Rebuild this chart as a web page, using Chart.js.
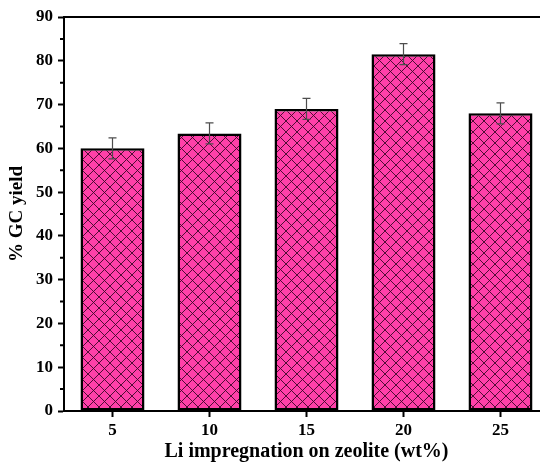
<!DOCTYPE html>
<html>
<head>
<meta charset="utf-8">
<script src="https://cdn.jsdelivr.net/npm/chart.js@4.4.1/dist/chart.umd.min.js"></script>
<style>
  html, body { margin: 0; padding: 0; background: #fff; overflow: hidden; }
  #wrap { width: 552px; height: 462px; }
</style>
</head>
<body>
<div id="wrap"><canvas id="yieldChart" width="552" height="462"></canvas></div>
<script>
// Li loading (wt%) vs GC yield
const loadings = ['5', '10', '15', '20', '25'];
const gcYield = [60.0, 63.4, 69.0, 81.5, 68.0];
const yieldErr = [2.4, 2.4, 2.4, 2.4, 2.4];
const yTicks = [0, 10, 20, 30, 40, 50, 60, 70, 80, 90];
const yMinorTicks = [5, 15, 25, 35, 45, 55, 65, 75, 85];

const serif = '"Liberation Serif", "Times New Roman", serif';

// cross-hatched pink fill
function hatchPattern() {
    const s = 11;
    const c = document.createElement('canvas');
    c.width = s; c.height = s;
    const g = c.getContext('2d');
    g.fillStyle = '#ff40a8';
    g.fillRect(0, 0, s, s);
    g.strokeStyle = '#3c0828';
    g.lineWidth = 0.9;
    g.beginPath();
    g.moveTo(0, 0); g.lineTo(s, s);
    g.moveTo(0, s); g.lineTo(s, 0);
    g.stroke();
    return g.createPattern(c, 'repeat');
}

const ctx = document.getElementById('yieldChart').getContext('2d');

const axisExtras = {
    id: 'axisExtras',
    afterDatasetsDraw(chart) {
        const c = chart.ctx;
        const y = chart.scales.y;
        const meta = chart.getDatasetMeta(0);
        // error bars
        c.save();
        c.strokeStyle = '#4d4d4d';
        c.lineWidth = 1.2;
        meta.data.forEach((bar, i) => {
            const top = y.getPixelForValue(gcYield[i] + yieldErr[i]);
            const bot = y.getPixelForValue(gcYield[i] - yieldErr[i]);
            c.beginPath();
            c.moveTo(bar.x, top); c.lineTo(bar.x, bot);
            c.moveTo(bar.x - 4, top); c.lineTo(bar.x + 4, top);
            c.moveTo(bar.x - 4, bot); c.lineTo(bar.x + 4, bot);
            c.stroke();
        });
        c.restore();
    },
    afterDraw(chart) {
        const c = chart.ctx;
        const area = chart.chartArea;
        const y = chart.scales.y;
        c.save();
        c.strokeStyle = '#000';
        c.lineWidth = 2;
        // top frame line
        c.beginPath();
        c.moveTo(area.left - 1, area.top);
        c.lineTo(chart.width, area.top);
        c.stroke();
        // minor ticks on y
        c.beginPath();
        yMinorTicks.forEach(v => {
            const py = y.getPixelForValue(v);
            c.moveTo(area.left - 4, py);
            c.lineTo(area.left, py);
        });
        c.stroke();
        c.restore();
    }
};

new Chart(ctx, {
    type: 'bar',
    data: {
        labels: loadings,
        datasets: [{
            data: gcYield,
            backgroundColor: hatchPattern(),
            borderColor: '#000',
            borderWidth: 2.5,
            borderSkipped: false,
            barPercentage: 0.66,
            categoryPercentage: 1.0
        }]
    },
    options: {
        responsive: false,
        animation: false,
        layout: { padding: { top: 17, right: 3, left: 0, bottom: 0 } },
        plugins: {
            legend: { display: false },
            tooltip: { enabled: false }
        },
        scales: {
            x: {
                grid: {
                    offset: false,
                    drawOnChartArea: false,
                    tickLength: 6,
                    tickWidth: 2,
                    tickColor: '#000'
                },
                border: { display: true, color: '#000', width: 2 },
                ticks: {
                    color: '#000',
                    padding: 3,
                    font: { family: serif, size: 17, weight: 'bold' }
                },
                title: {
                    display: true,
                    text: 'Li impregnation on zeolite (wt%)',
                    color: '#000',
                    padding: 0,
                    font: { family: serif, size: 20, weight: 'bold', lineHeight: 1 }
                },
                afterFit(scale) { scale.height = 51; }
            },
            y: {
                min: 0,
                max: 90,
                afterBuildTicks(scale) { scale.ticks = yTicks.map(v => ({ value: v })); },
                grid: {
                    drawOnChartArea: false,
                    tickLength: 6,
                    tickWidth: 2,
                    tickColor: '#000'
                },
                border: { display: true, color: '#000', width: 2 },
                ticks: {
                    color: '#000',
                    padding: 5,
                    font: { family: serif, size: 17, weight: 'bold' }
                },
                title: {
                    display: true,
                    text: '% GC yield',
                    color: '#000',
                    padding: { top: 8, bottom: 0 },
                    font: { family: serif, size: 19, weight: 'bold', lineHeight: 1 }
                },
                afterFit(scale) { scale.width = 64; }
            }
        }
    },
    plugins: [axisExtras]
});
</script>
</body>
</html>
